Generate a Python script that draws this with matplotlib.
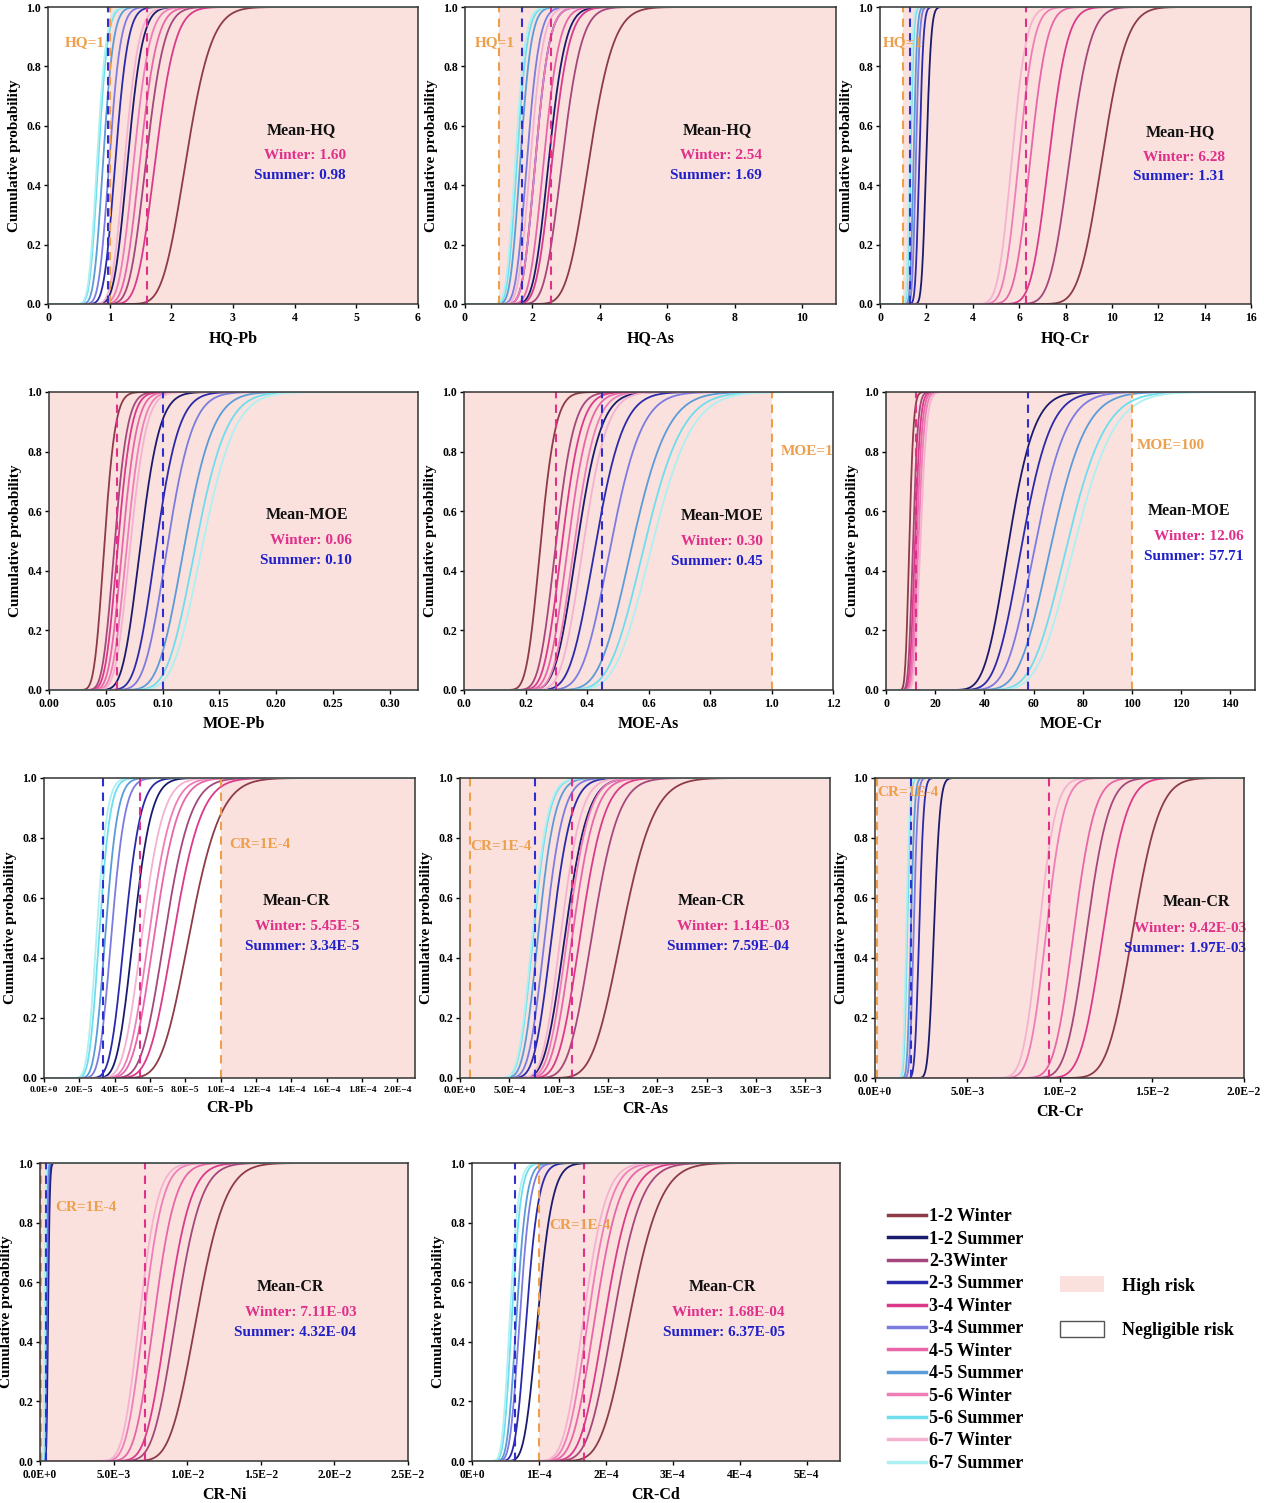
import math
import numpy as np
import matplotlib
matplotlib.use('Agg')
import matplotlib.pyplot as plt
from matplotlib.lines import Line2D
from matplotlib.patches import Patch

plt.rcParams['font.family'] = ['Liberation Serif', 'DejaVu Serif']
plt.rcParams['font.weight'] = 'bold'
plt.rcParams['axes.labelweight'] = 'bold'

# ---- datos ----
stations = ['1-2', '2-3', '3-4', '4-5', '5-6', '6-7']
legend_labels = ['1-2 Winter', '1-2 Summer', '2-3Winter', '2-3 Summer', '3-4 Winter', '3-4 Summer',
                 '4-5 Winter', '4-5 Summer', '5-6 Winter', '5-6 Summer', '6-7 Winter', '6-7 Summer']
winter_colors = ['#8E3B48', '#A5477C', '#DB3A8A', '#E866A8', '#EF7DB8', '#F5B2D0']
summer_colors = ['#1B1B6E', '#2A2AAA', '#7B7BE0', '#5B9BD8', '#6EDDEE', '#ADF0F2']

xlabels = ['HQ-Pb', 'HQ-As', 'HQ-Cr', 'MOE-Pb', 'MOE-As', 'MOE-Cr', 'CR-Pb', 'CR-As', 'CR-Cr', 'CR-Ni', 'CR-Cd']
mean_titles = ['Mean-HQ'] * 3 + ['Mean-MOE'] * 3 + ['Mean-CR'] * 5
winter_txt = ['1.60', '2.54', '6.28', '0.06', '0.30', '12.06', '5.45E-5', '1.14E-03', '9.42E-03', '7.11E-03', '1.68E-04']
summer_txt = ['0.98', '1.69', '1.31', '0.10', '0.45', '57.71', '3.34E-5', '7.59E-04', '1.97E-03', '4.32E-04', '6.37E-05']
winter_mean = [1.60, 2.54, 6.28, 0.06, 0.30, 12.06, 5.45e-5, 1.14e-3, 9.42e-3, 7.11e-3, 1.68e-4]
summer_mean = [0.98, 1.69, 1.31, 0.10, 0.45, 57.71, 3.34e-5, 7.59e-4, 1.97e-3, 4.32e-4, 6.37e-5]
thresholds = [1, 1, 1, None, 1, 100, 1e-4, 1e-4, 1e-4, 1e-4, 1e-4]
thr_labels = ['HQ=1', 'HQ=1', 'HQ=1', None, 'MOE=1', 'MOE=100',
              'CR=1E-4', 'CR=1E-4', 'CR=1E-4', 'CR=1E-4', 'CR=1E-4']

# medianas (lognormal), por estación 1-2 ... 6-7
winter_median = [
    [2.25, 1.6, 1.75, 1.5, 1.4, 1.25],
    [3.7, 2.9, 2.6, 2.35, 2.1, 1.95],
    [9.6, 8.2, 7.3, 6.5, 6.0, 5.7],
    [0.049, 0.058, 0.061, 0.065, 0.069, 0.072],
    [0.25, 0.30, 0.32, 0.34, 0.36, 0.39],
    [9.5, 11.0, 11.8, 12.5, 13.2, 14.0],
    [8.3e-5, 6.9e-5, 7.4e-5, 6.3e-5, 6.0e-5, 5.6e-5],
    [1.65e-3, 1.35e-3, 1.23e-3, 1.15e-3, 1.10e-3, 1.03e-3],
    [1.4e-2, 1.15e-2, 1.24e-2, 1.08e-2, 9.3e-3, 8.9e-3],
    [1.07e-2, 9.3e-3, 8.7e-3, 7.8e-3, 7.1e-3, 6.8e-3],
    [2.37e-4, 2.13e-4, 2.0e-4, 1.85e-4, 1.75e-4, 1.68e-4],
]
summer_median = [
    [1.3, 1.1, 1.0, 0.9, 0.82, 0.8],
    [2.5, 2.1, 1.85, 1.65, 1.55, 1.5],
    [2.0, 1.7, 1.55, 1.45, 1.32, 1.28],
    [0.081, 0.095, 0.105, 0.12, 0.13, 0.136],
    [0.37, 0.43, 0.48, 0.55, 0.59, 0.615],
    [50, 55.5, 61, 67.5, 74, 77],
    [5.1e-5, 4.6e-5, 3.85e-5, 3.5e-5, 3.15e-5, 3.0e-5],
    [1.075e-3, 9.4e-4, 8.7e-4, 8.0e-4, 7.5e-4, 7.4e-4],
    [3.2e-3, 2.4e-3, 2.1e-3, 1.95e-3, 1.75e-3, 1.7e-3],
    [5.5e-4, 5.0e-4, 4.5e-4, 4.0e-4, 3.5e-4, 3.3e-4],
    [9.9e-5, 8.2e-5, 7.2e-5, 6.7e-5, 6.0e-5, 5.7e-5],
]
winter_sigma = [0.14, 0.15, 0.085, 0.15, 0.15, 0.14, 0.16, 0.15, 0.08, 0.14, 0.15]
summer_sigma = [0.14, 0.15, 0.08, 0.16, 0.16, 0.16, 0.15, 0.16, 0.08, 0.16, 0.17]

xlims = [(0, 6), (0, 11), (0, 16), (0, 0.325), (0, 1.2), (0, 150),
         (0, 2.1e-4), (0, 3.75e-3), (0, 2.0e-2), (0, 2.5e-2), (0, 5.5e-4)]
xticks = [
    [0, 1, 2, 3, 4, 5, 6],
    [0, 2, 4, 6, 8, 10],
    [0, 2, 4, 6, 8, 10, 12, 14, 16],
    [0, 0.05, 0.10, 0.15, 0.20, 0.25, 0.30],
    [0, 0.2, 0.4, 0.6, 0.8, 1.0, 1.2],
    [0, 20, 40, 60, 80, 100, 120, 140],
    [0, 2e-5, 4e-5, 6e-5, 8e-5, 1e-4, 1.2e-4, 1.4e-4, 1.6e-4, 1.8e-4, 2e-4],
    [0, 5e-4, 1e-3, 1.5e-3, 2e-3, 2.5e-3, 3e-3, 3.5e-3],
    [0, 5e-3, 1e-2, 1.5e-2, 2e-2],
    [0, 5e-3, 1e-2, 1.5e-2, 2e-2, 2.5e-2],
    [0, 1e-4, 2e-4, 3e-4, 4e-4, 5e-4],
]
xticklabels = [
    ['0', '1', '2', '3', '4', '5', '6'],
    ['0', '2', '4', '6', '8', '10'],
    ['0', '2', '4', '6', '8', '10', '12', '14', '16'],
    ['0.00', '0.05', '0.10', '0.15', '0.20', '0.25', '0.30'],
    ['0.0', '0.2', '0.4', '0.6', '0.8', '1.0', '1.2'],
    ['0', '20', '40', '60', '80', '100', '120', '140'],
    ['0.0E+0', '2.0E−5', '4.0E−5', '6.0E−5', '8.0E−5', '1.0E−4', '1.2E−4', '1.4E−4', '1.6E−4', '1.8E−4', '2.0E−4'],
    ['0.0E+0', '5.0E−4', '1.0E−3', '1.5E−3', '2.0E−3', '2.5E−3', '3.0E−3', '3.5E−3'],
    ['0.0E+0', '5.0E−3', '1.0E−2', '1.5E−2', '2.0E−2'],
    ['0.0E+0', '5.0E−3', '1.0E−2', '1.5E−2', '2.0E−2', '2.5E−2'],
    ['0E+0', '1E−4', '2E−4', '3E−4', '4E−4', '5E−4'],
]
tick_size = [8.5, 8.5, 8.5, 8.5, 8.5, 8.5, 6.8, 7.8, 8.3, 8.3, 8.3]

# zona de alto riesgo (None = borde del eje)
shade = [(1, None), (1, None), (1, None), (None, None), (None, 1), (None, 100),
         (1e-4, None), (None, None), (1e-4, None), (None, None), (1e-4, None)]

# posición de la etiqueta del umbral (x en datos, y, alineación)
thr_pos = [(0.93, 0.88, 'right'), (0.28, 0.88, 'left'), (0.1, 0.88, 'left'), None,
           (1.03, 0.80, 'left'), (102, 0.82, 'left'), (1.05e-4, 0.78, 'left'),
           (1.05e-4, 0.77, 'left'), (1.3e-4, 0.95, 'left'), (1.06e-3, 0.85, 'left'),
           (1.15e-4, 0.79, 'left')]

# posición del texto de medias (x centro título, x derecha, y título)
mean_pos = [(0.684, 0.805, 0.586), (0.68, 0.80, 0.586), (0.81, 0.93, 0.58),
            (0.70, 0.82, 0.587), (0.70, 0.81, 0.584), (0.82, 0.97, 0.60),
            (0.68, 0.85, 0.59), (0.68, 0.89, 0.59), (0.87, 1.005, 0.585),
            (0.68, 0.86, 0.584), (0.68, 0.85, 0.584)]

# cajas de los ejes en píxeles (izq, arriba, der, abajo)
boxes = [(48, 7, 418, 304), (465, 7, 836, 304), (880, 7, 1251, 304),
         (49, 392, 418, 690), (464, 392, 833, 690), (886, 392, 1255, 690),
         (44, 778, 415, 1078), (460, 778, 830, 1078), (875, 778, 1244, 1078),
         (40, 1163, 408, 1461), (472, 1163, 840, 1461)]

W, H = 1264, 1503
PINK = '#FAE1DE'
ORANGE = '#EE9F4C'
WCOL = '#E0308A'
SCOL = '#2F2FD0'


def lognorm_cdf(x, med, s):
    z = (np.log(x) - np.log(med)) / (s * math.sqrt(2))
    return 0.5 * (1 + np.vectorize(math.erf)(z))


fig = plt.figure(figsize=(W / 100, H / 100), dpi=100)

for i in range(len(xlabels)):
    l, t, r, b = boxes[i]
    ax = fig.add_axes([l / W, 1 - b / H, (r - l) / W, (b - t) / H])
    x0, x1 = xlims[i]
    ax.set_xlim(x0, x1)
    ax.set_ylim(0, 1)

    lo, hi = shade[i]
    ax.axvspan(x0 if lo is None else lo, x1 if hi is None else hi, color=PINK, lw=0, zorder=0)

    x = np.linspace(x1 * 1e-4, x1, 900)
    for k in range(len(stations)):
        ax.plot(x, lognorm_cdf(x, winter_median[i][k], winter_sigma[i]), color=winter_colors[k], lw=1.3, zorder=2)
        ax.plot(x, lognorm_cdf(x, summer_median[i][k], summer_sigma[i]), color=summer_colors[k], lw=1.3, zorder=2)

    ax.axvline(winter_mean[i], color=WCOL, ls=(0, (4, 3)), lw=1.5, zorder=3)
    ax.axvline(summer_mean[i], color=SCOL, ls=(0, (4, 3)), lw=1.5, zorder=3)
    if thresholds[i] is not None:
        ax.axvline(thresholds[i], color=ORANGE, ls=(0, (4, 3)), lw=1.5, zorder=3)
        tx, ty, ha = thr_pos[i]
        ax.text(tx, ty, thr_labels[i], color=ORANGE, fontsize=11, ha=ha, va='center', zorder=4)

    cx, rx, ty = mean_pos[i]
    ax.text(cx, ty, mean_titles[i], transform=ax.transAxes, ha='center', va='center', fontsize=11.5, color='#111111')
    ax.text(rx, ty - 0.086, 'Winter: ' + winter_txt[i], transform=ax.transAxes, ha='right', va='center',
            fontsize=11, color=WCOL, clip_on=False)
    ax.text(rx, ty - 0.152, 'Summer: ' + summer_txt[i], transform=ax.transAxes, ha='right', va='center',
            fontsize=11, color='#2020C8', clip_on=False)

    ax.set_xticks(xticks[i])
    ax.set_xticklabels(xticklabels[i])
    ax.set_yticks([0, 0.2, 0.4, 0.6, 0.8, 1.0])
    ax.set_yticklabels(['0.0', '0.2', '0.4', '0.6', '0.8', '1.0'])
    ax.tick_params(axis='x', labelsize=tick_size[i], length=3, width=1, pad=3)
    ax.tick_params(axis='y', labelsize=8.5, length=3, width=1, pad=2)
    ax.set_xlabel(xlabels[i], fontsize=11.5, labelpad=4)
    ax.set_ylabel('Cumulative probability', fontsize=11, labelpad=4)
    for sp in ax.spines.values():
        sp.set_color('#333333')
        sp.set_linewidth(1.1)
        sp.set_zorder(5)

# leyendas
handles = []
for k in range(len(stations)):
    handles.append(Line2D([], [], color=winter_colors[k], lw=2.5))
    handles.append(Line2D([], [], color=summer_colors[k], lw=2.5))
fig.legend(handles, legend_labels, loc='upper left', bbox_to_anchor=(872 / W, 1 - 1192 / H),
           frameon=False, fontsize=13, handlelength=2.1, handletextpad=0.15, labelspacing=0.3)

risk = [Patch(facecolor=PINK, edgecolor='none'), Patch(facecolor='white', edgecolor='#555555')]
fig.legend(risk, ['High risk', 'Negligible risk'], loc='upper left', bbox_to_anchor=(1044 / W, 1 - 1260 / H),
           frameon=False, fontsize=13, handlelength=2.4, handleheight=1.0, handletextpad=1.0, labelspacing=1.45)

fig.savefig('out.png', dpi=100)
